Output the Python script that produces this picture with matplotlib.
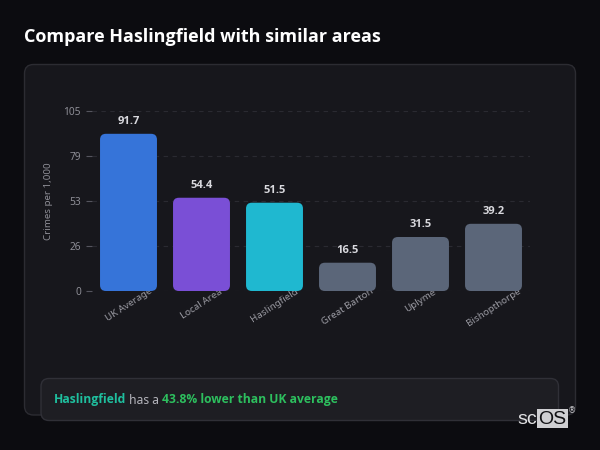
import matplotlib
matplotlib.use("Agg")
import matplotlib.pyplot as plt
from matplotlib import font_manager
from matplotlib.patches import FancyBboxPatch, Rectangle

# ---------------------------------------------------------------------------
# Data
# ---------------------------------------------------------------------------
areas = ["UK Average", "Local Area", "Haslingfield", "Great Barton", "Uplyme", "Bishopthorpe"]
rates = [91.7, 54.4, 51.5, 16.5, 31.5, 39.2]
bar_colors = ["#3674d9", "#7a4fd6", "#1fb8d0", "#5b6679", "#5b6679", "#5b6679"]

y_ticks = [0, 26.25, 52.5, 78.75, 105]
y_tick_labels = ["0", "26", "53", "79", "105"]

title = "Compare Haslingfield with similar areas"
y_label = "Crimes per 1,000"
focus_area = "Haslingfield"
summary_mid = " has a "
summary_end = "43.8% lower than UK average"

# ---------------------------------------------------------------------------
# Style
# ---------------------------------------------------------------------------
BG = "#0c0c10"
CARD = "#17171c"
CARD_EDGE = "#2c2c32"
BOX = "#1e1e23"
BOX_EDGE = "#303037"
MUTED = "#8e8e96"

# Noto Sans may come without a bold face; fall back to Open Sans for bold text
weights = {}
for f in font_manager.fontManager.ttflist:
    weights.setdefault(f.name, set()).add(f.weight)
BOLD_FAMILY = "Noto Sans" if 700 in weights.get("Noto Sans", set()) else "Open Sans"
BOLD = dict(family=[BOLD_FAMILY, "DejaVu Sans"], fontweight="bold")

plt.rcParams["font.family"] = ["Noto Sans", "DejaVu Sans"]

W, H = 600, 450
fig = plt.figure(figsize=(6, 4.5), dpi=100, facecolor=BG)

# background layer in pixel units
bg = fig.add_axes([0, 0, 1, 1], zorder=0)
bg.set_xlim(0, W)
bg.set_ylim(H, 0)
bg.axis("off")

bg.add_patch(FancyBboxPatch((24.5, 64.5), 551, 350.5,
                            boxstyle="round,pad=0,rounding_size=9",
                            fc=CARD, ec=CARD_EDGE, lw=1))
bg.add_patch(FancyBboxPatch((41, 378.5), 517.5, 42,
                            boxstyle="round,pad=0,rounding_size=8",
                            fc=BOX, ec=BOX_EDGE, lw=1, zorder=3))

bg.text(24, 37, title, fontsize=13, color="white", ha="left", va="center", **BOLD)

# summary sentence, pieces laid out one after another
renderer = fig.canvas.get_renderer()
x = 54
for txt, col, bold in [(focus_area, "#1fbf9e", True),
                       (summary_mid, "#b4b4bb", False),
                       (summary_end, "#2dbf5e", True)]:
    kw = BOLD if bold else {}
    t = bg.text(x, 400, txt, fontsize=8.7, color=col, ha="left", va="center",
                zorder=4, **kw)
    x += t.get_window_extent(renderer).width

# logo
bg.add_patch(Rectangle((537, 409), 31, 19, fc="#cfcfd2", ec="none", zorder=5))
bg.text(517, 419, "sc", fontsize=14, family="Liberation Sans", color="#e2e2e4",
        ha="left", va="center", zorder=6)
bg.text(552.5, 419, "OS", fontsize=14, family="Liberation Sans", color="#111114",
        ha="center", va="center", zorder=6)
bg.text(572, 411, "\u00ae", fontsize=6, family="DejaVu Sans", color="#c8c8cc",
        ha="center", va="center", zorder=6)

# ---------------------------------------------------------------------------
# Chart
# ---------------------------------------------------------------------------
ax_l, ax_r, ax_t, ax_b = 92, 530, 111, 291
ax = fig.add_axes([ax_l / W, 1 - ax_b / H, (ax_r - ax_l) / W, (ax_b - ax_t) / H],
                  zorder=2)
ax.set_facecolor("none")
ax.set_xlim(-0.5, len(areas) - 0.5)
ax.set_ylim(0, 105)

# rounded bars: squeeze the rounding so corners stay circular on screen
px_per_x = (ax_r - ax_l) / len(areas)
px_per_y = (ax_b - ax_t) / 105
aspect = px_per_x / px_per_y
bar_w = 0.78
for i, (v, c) in enumerate(zip(rates, bar_colors)):
    ax.add_patch(FancyBboxPatch((i - bar_w / 2, 0), bar_w, v,
                                boxstyle="round,pad=0,rounding_size=0.08",
                                mutation_aspect=aspect, fc=c, ec="none", zorder=3))
    ax.annotate(f"{v:.1f}", (i, v), xytext=(0, 8.8), textcoords="offset points",
                ha="center", va="center", fontsize=8, color="#d9d9de",
                zorder=4, **BOLD)

ax.set_yticks(y_ticks)
ax.set_yticklabels(y_tick_labels)
ax.set_xticks(range(len(areas)))
ax.set_xticklabels(areas, rotation=33, ha="center")

ax.tick_params(axis="y", length=4, width=0.8, color="#55555e", pad=4,
               labelsize=7.3, labelcolor=MUTED)
ax.tick_params(axis="x", length=0, pad=-3, labelsize=7, labelcolor="#9a9aa2")

for yv in y_ticks:
    ax.axhline(yv, color="#2a2a31", lw=0.8, ls=(0, (4, 4)), zorder=1)

for s in ax.spines.values():
    s.set_visible(False)

ax.set_ylabel(y_label, fontsize=7, color=MUTED)
ax.yaxis.set_label_coords(-0.089, 0.5)

fig.savefig("out.png", dpi=100, facecolor=BG)
